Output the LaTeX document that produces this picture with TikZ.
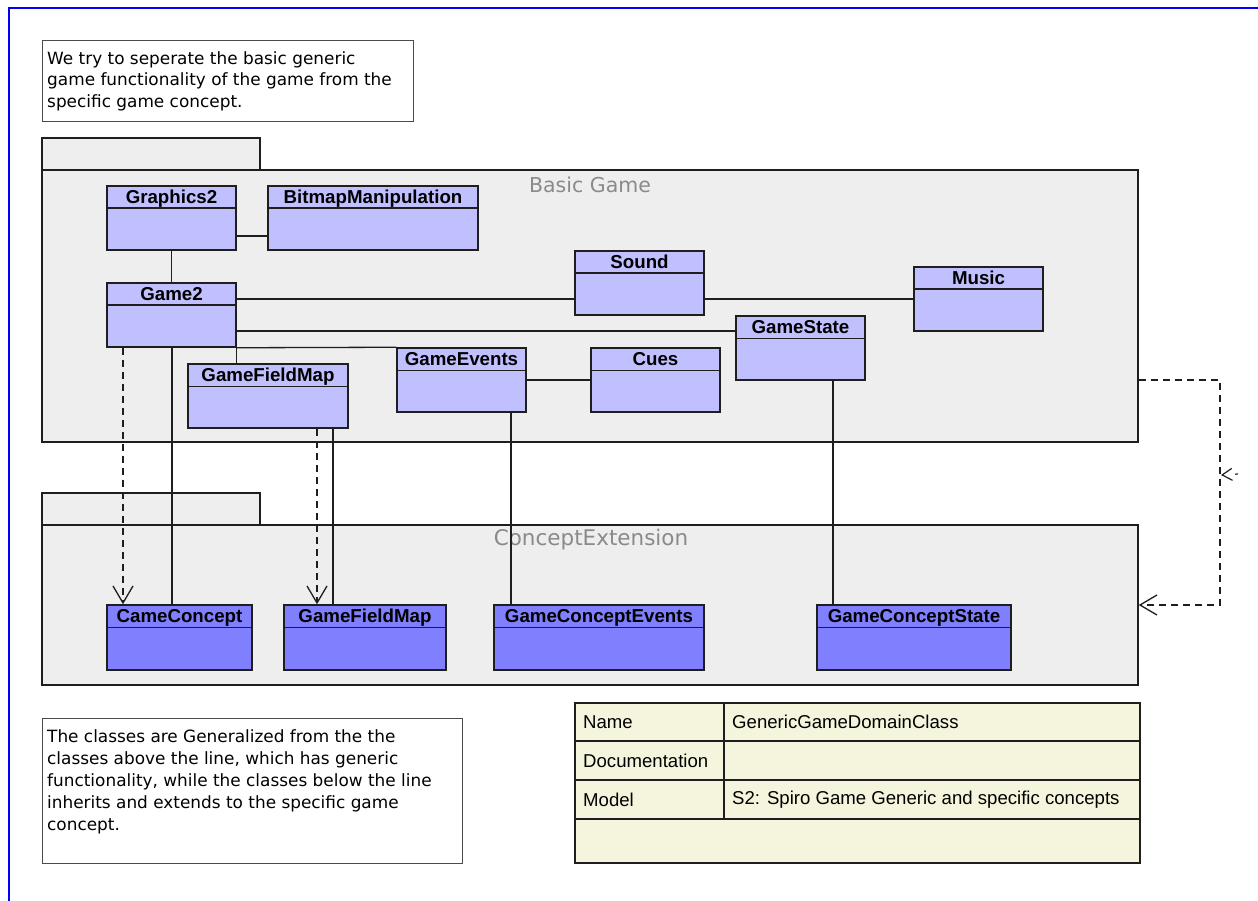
\documentclass[tikz,border=0pt]{standalone}
\usepackage{fontspec}
\setmainfont{DejaVu Sans}
\newfontfamily\helv{Liberation Sans}
\usetikzlibrary{arrows.meta}

\definecolor{clsA}{HTML}{C0C0FF}
\definecolor{clsB}{HTML}{8080FF}
\definecolor{pkgfill}{HTML}{EEEEEE}
\definecolor{tblfill}{HTML}{F5F5DE}
\definecolor{ink}{HTML}{1E1E1E}
\definecolor{pkglabel}{HTML}{8A8A8A}

\tikzset{
  clsbox/.style={draw=ink, line width=1.5pt, inner sep=0pt},
  clsline/.style={draw=ink, line width=1.5pt},
  clstitle/.style={font=\helv\bfseries\fontsize{18.7}{20}\selectfont, inner sep=0pt,
    anchor=base, text=black},
  pkgbox/.style={draw=ink, line width=1.4pt, fill=pkgfill, inner sep=0pt},
  pkgname/.style={text=pkglabel, inner sep=0pt},
  notebox/.style={draw=ink!80, line width=1pt, fill=white, inner sep=0pt},
  notetext/.style={align=left, inner sep=0pt, anchor=north west, text=black},
  assoc/.style={draw=ink, line width=1.3pt},
  realize/.style={draw=ink, line width=1.3pt, dash pattern=on 7pt off 5pt,
    -{Straight Barb[length=17pt, width=20pt, line width=1.3pt]}},
  cell/.style={font=\helv\fontsize{18.6}{22}\selectfont, inner sep=0pt, anchor=west, text=black},
}

% class box: name, x1, y1, x2, y2, fill, title
\newcommand\umlclass[7]{%
  \node[clsbox, fill=#6, minimum width={#4-#2}, minimum height={#5-#3}]
    (#1) at ({(#2+#4)/2},{(#3+#5)/2}) {};
  \draw[clsline] ([yshift=-23pt]#1.north west) -- ([yshift=-23pt]#1.north east);
  \node[clstitle] at ([yshift=-18pt]#1.north) {#7};
}

\begin{document}
\begin{tikzpicture}[x=1pt, y=-1pt]
\useasboundingbox (0,0) rectangle (1258,901);
\fill[white] (0,0) rectangle (1258,901);

% outer frame
\draw[blue, line width=1.2pt] (1258,8) -- (9,8) -- (9,901);

% top note
\node[notebox, minimum width=371, minimum height=81] (note1) at (227.5,81.5) {};
\node[notetext, font=\fontsize{16.9}{21.5}\selectfont] (note1txt) at (47,51)
  {We try to seperate the basic generic\\game functionality of the game from the\\specific game concept.};

% package: Basic Game
\node[pkgbox, minimum width=218, minimum height=32] (bgtab) at (151,154) {};
\node[pkgbox, minimum width=1096, minimum height=272] (bg) at (590,306) {};
\node[pkgname, font=\fontsize{20.5}{24}\selectfont] (bglabel) at (590,185) {Basic Game};

% package: ConceptExtension
\node[pkgbox, minimum width=218, minimum height=32] (cetab) at (151,509) {};
\node[pkgbox, minimum width=1096, minimum height=160] (ce) at (590,605) {};
\node[pkgname, font=\fontsize{21.5}{24}\selectfont] (celabel) at (591,540) {ConceptExtension};

% generic classes
\umlclass{gr2}{107}{186}{236}{250}{clsA}{Graphics2}
\umlclass{bmp}{268}{186}{478}{250}{clsA}{BitmapManipulation}
\umlclass{g2}{107}{283}{236}{347}{clsA}{Game2}
\umlclass{snd}{575}{251}{704}{315}{clsA}{Sound}
\umlclass{mus}{914}{267}{1043}{331}{clsA}{Music}
\umlclass{gst}{736}{316}{865}{380}{clsA}{GameState}
\umlclass{gfm}{188}{364}{348}{428}{clsA}{GameFieldMap}
\umlclass{gev}{397}{348}{526}{412}{clsA}{GameEvents}
\umlclass{cue}{591}{348}{720}{412}{clsA}{Cues}

% concept classes
\umlclass{cc}{107}{605}{252}{670}{clsB}{CameConcept}
\umlclass{gfm2}{284}{605}{446}{670}{clsB}{GameFieldMap}
\umlclass{gce}{494}{605}{704}{670}{clsB}{GameConceptEvents}
\umlclass{gcs}{817}{605}{1011}{670}{clsB}{GameConceptState}

% associations
\draw[assoc] (gr2.east |- 0,236) -- (bmp.west |- 0,236);
\draw[assoc] (gr2.south) -- (g2.north);
\draw[assoc] (g2.east |- 0,299) -- (snd.west |- 0,299);
\draw[assoc] (snd.east |- 0,299) -- (mus.west |- 0,299);
\draw[assoc] (g2.east |- 0,331) -- (gst.west |- 0,331);
\draw[assoc] (g2.south east) -- (gev.north west);
\draw[assoc] (g2.south east) -- (g2.south east |- gfm.north);
\draw[assoc] (gev.east |- 0,380) -- (cue.west |- 0,380);
\draw[assoc] (gst.south -| 833,0) -- (gcs.north -| 833,0);
\draw[assoc] (gev.south -| 511,0) -- (gce.north -| 511,0);
\draw[assoc] (gfm.south -| 333,0) -- (gfm2.north -| 333,0);
\draw[assoc] (g2.south -| 172,0) -- (cc.north -| 172,0);

% realizations
\draw[realize] (gfm.south -| 317,0) -- (gfm2.north -| 317,0);
\draw[realize] (g2.south -| 123,0) -- (cc.north -| 123,0);
\coordinate (pkgbend1) at (1220,380);
\coordinate (pkgbend2) at (1220,605);
\draw[realize] (bg.east |- pkgbend1) -- (pkgbend1) -- (pkgbend2) -- (ce.east |- pkgbend2);

% stray arrow head on the right margin
\coordinate (strayfrom) at (1238,474);
\coordinate (strayto) at (1221,475);
\draw[draw=ink, line width=1.2pt, dash pattern=on 3pt off 30pt,
  -{Straight Barb[length=10pt, width=12pt, line width=1.2pt]}] (strayfrom) -- (strayto);

% bottom note
\node[notebox, minimum width=420, minimum height=145] (note2) at (252,790.5) {};
\node[notetext, font=\fontsize{16.9}{22}\selectfont] (note2txt) at (47,729)
  {The classes are Generalized from the the\\classes above the line, which has generic\\functionality, while the classes below the line\\inherits and extends to the specific game\\concept.};

% property table
\node[draw=ink, line width=1.4pt, fill=tblfill, minimum width=565, minimum height=160, inner sep=0pt]
  (tbl) at (857.5,783) {};
\draw[draw=ink, line width=1.2pt] (tbl.west |- 0,741) -- (tbl.east |- 0,741);
\draw[draw=ink, line width=1.2pt] (tbl.west |- 0,780) -- (tbl.east |- 0,780);
\draw[draw=ink, line width=1.2pt] (tbl.west |- 0,819) -- (tbl.east |- 0,819);
\draw[draw=ink, line width=1.2pt] (tbl.north -| 724,0) -- (724,819);
\node[cell] (kname) at (583,722) {Name};
\node[cell] (vname) at (732,722) {GenericGameDomainClass};
\node[cell] (kdoc) at (583,760.5) {Documentation};
\node[cell] (kmodel) at (583,799.5) {Model};
\node[cell] (vmodel) at (732,799.5) {S2: Spiro Game Generic and specific concepts};
\end{tikzpicture}
\end{document}
